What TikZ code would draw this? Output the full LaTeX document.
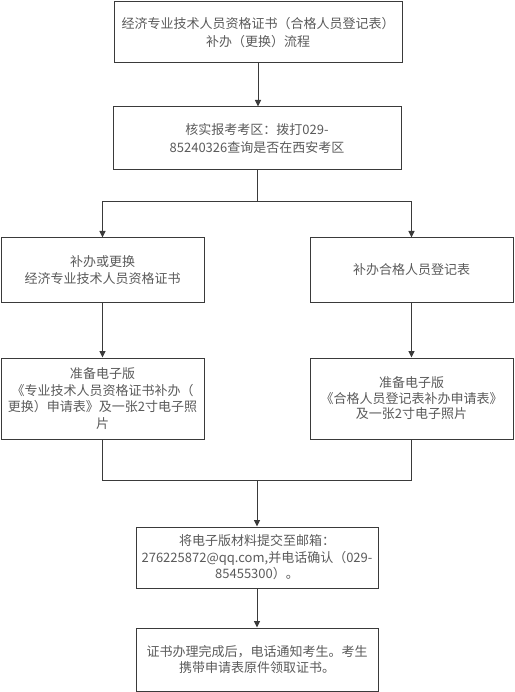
\documentclass[tikz,border=0pt]{standalone}
\usepackage{fontspec}
\newfontfamily\cjk{Noto Sans CJK SC}
\usetikzlibrary{arrows.meta}
\definecolor{txtgray}{HTML}{5A5A5A}
\definecolor{linegray}{HTML}{3A3A3A}
\tikzset{
  flowbox/.style={draw=linegray, line width=1pt, inner sep=0pt, align=center,
    text=txtgray, font=\cjk\fontsize{13pt}{18pt}\selectfont},
  conn/.style={draw=linegray, line width=1pt},
  arr/.style={conn, -{Triangle[width=6pt,length=6.5pt]}}
}
\begin{document}
\begin{tikzpicture}[x=1pt,y=-1pt]
\useasboundingbox (0,0) rectangle (514,692);
\node[flowbox, minimum width=288pt, minimum height=61pt] (b1) at (258,32.5)
  {经济专业技术人员资格证书（合格人员登记表）\\补办（更换）流程};
\node[flowbox, minimum width=288pt, minimum height=63pt] (b2) at (257,138.5)
  {核实报考考区：拨打029-\\85240326查询是否在西安考区};
\node[flowbox, minimum width=203pt, minimum height=64pt, font=\cjk\fontsize{13pt}{17pt}\selectfont] (b3) at (102.5,270)
  {补办或更换\\经济专业技术人员资格证书};
\node[flowbox, minimum width=203pt, minimum height=64pt] (b4) at (411.5,270)
  {补办合格人员登记表};
\node[flowbox, minimum width=203pt, minimum height=81pt, font=\cjk\fontsize{13pt}{16.5pt}\selectfont] (b5) at (102.5,398.5)
  {准备电子版\\《专业技术人员资格证书补办（\\更换）申请表》及一张2寸电子照\\片};
\node[flowbox, minimum width=203pt, minimum height=81pt, font=\cjk\fontsize{13pt}{15.5pt}\selectfont] (b6) at (411.5,398.5)
  {准备电子版\\《合格人员登记表补办申请表》\\及一张2寸电子照片};
\node[flowbox, minimum width=242pt, minimum height=61pt, font=\cjk\fontsize{13pt}{16.5pt}\selectfont] (b7) at (257,557.5)
  {将电子版材料提交至邮箱：\\276225872@qq.com,并电话确认（029-\\85455300）。};
\node[flowbox, minimum width=242pt, minimum height=63pt, font=\cjk\fontsize{13pt}{16pt}\selectfont] (b8) at (257,659.5)
  {证书办理完成后，电话通知考生。考生\\携带申请表原件领取证书。};
\coordinate (s1) at (257,202);
\coordinate (m1) at (257,480);
\draw[arr] (b1.south) -- (b1.south |- b2.north);
\draw[conn] (b2.south) -- (s1);
\draw[arr] (s1) -| (b3.north);
\draw[arr] (s1) -| (b4.north);
\draw[arr] (b3) -- (b5);
\draw[arr] (b4) -- (b6);
\draw[conn] (b5.south) |- (m1);
\draw[conn] (b6.south) |- (m1);
\draw[arr] (m1) -- (b7.north);
\draw[arr] (b7) -- (b8);
\end{tikzpicture}
\end{document}
